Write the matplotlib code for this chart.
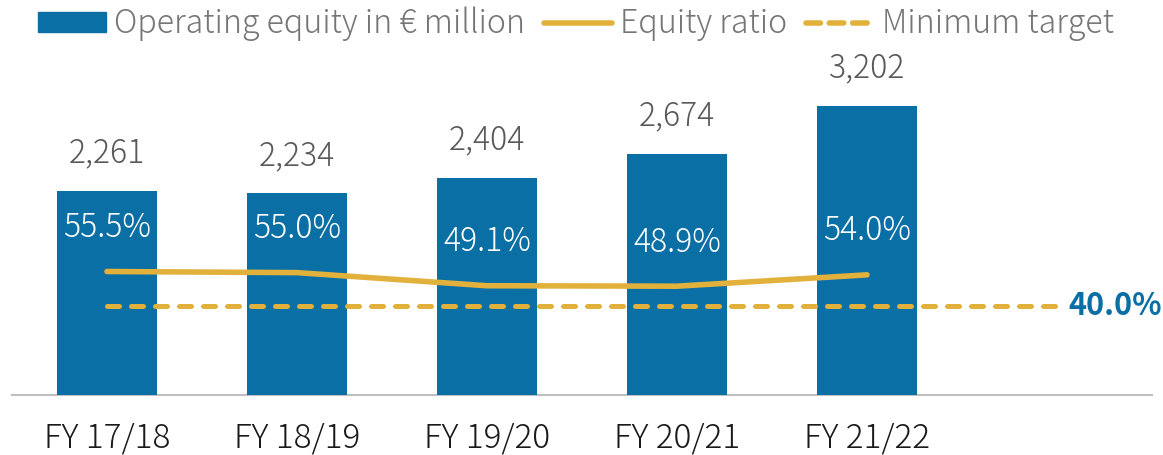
import matplotlib
matplotlib.use('Agg')
import matplotlib.pyplot as plt
from matplotlib.patches import Patch
from matplotlib.lines import Line2D

plt.rcParams['font.family'] = ['Noto Sans CJK JP', 'DejaVu Sans']

# Daten
jahre = ['FY 17/18', 'FY 18/19', 'FY 19/20', 'FY 20/21', 'FY 21/22']
eigenkapital = [2261, 2234, 2404, 2674, 3202]   # € Mio.
ek_quote = [55.5, 55.0, 49.1, 48.9, 54.0]       # %
mindestziel = 40.0                              # %

blau = '#0A6FA5'
gold = '#E2B13C'
grau_text = '#595959'
grau_legende = '#767676'

fig = plt.figure(figsize=(11.63, 4.55), dpi=100)
ax = fig.add_axes([12 / 1163, 60 / 455, 1140 / 1163, 340 / 455])
ax2 = ax.twinx()

x = list(range(len(jahre)))

# Balken: operatives Eigenkapital
ax.bar(x, eigenkapital, width=0.526, color=blau, zorder=2)
for xi, wert in zip(x, eigenkapital):
    ax.annotate(f'{wert:,}', (xi, wert), xytext=(0, 27), textcoords='offset points',
                ha='center', va='center', fontsize=23, color=grau_text,
                fontweight='light')

# Linien: Eigenkapitalquote und Mindestziel
ax2.plot(x, ek_quote, color=gold, lw=4, solid_capstyle='round', zorder=3)
ax2.plot([x[0], len(jahre)], [mindestziel, mindestziel], color=gold, lw=3.6,
         dashes=(2.4, 2.4), dash_capstyle='round', zorder=3)
for xi, q in zip(x, ek_quote):
    ax2.annotate(f'{q:.1f}%', (xi, q), xytext=(0, 31.5), textcoords='offset points',
                 ha='center', va='center', fontsize=23, color='white',
                 fontweight='light')
ax2.annotate(f'{mindestziel:.1f}%', (len(jahre), mindestziel), xytext=(8, 0),
             textcoords='offset points', ha='left', va='center', fontsize=22,
             fontweight='bold', color=blau)

ax.set_xlim(-0.5, 5.5)
ax.set_ylim(0, 3767)
ax2.set_ylim(0, 152.8)

ax.set_xticks(x)
ax.set_xticklabels(jahre, fontsize=24, color='#1a1a1a', fontweight='light')
ax.tick_params(axis='x', length=0, pad=19)
ax.set_yticks([])
ax2.set_yticks([])
for a in (ax, ax2):
    for s in ('top', 'left', 'right', 'bottom'):
        a.spines[s].set_visible(False)
ax.spines['bottom'].set_visible(True)
ax.spines['bottom'].set_color('#BFBFBF')
ax.spines['bottom'].set_linewidth(1.5)
ax.spines['bottom'].set_zorder(1)

# Legende
handles = [
    Patch(color=blau),
    Line2D([], [], color=gold, lw=4, solid_capstyle='round'),
    Line2D([], [], color=gold, lw=4, dashes=(2.6, 1.6), dash_capstyle='round'),
]
labels = ['Operating equity in € million', 'Equity ratio', 'Minimum target']
leg = fig.legend(handles, labels, loc='center left',
                 bbox_to_anchor=(38 / 1163, 1 - 24 / 455),
                 ncol=3, frameon=False, handlelength=2.1,
                 prop={'size': 23.2, 'weight': 'light'},
                 handleheight=0.55, handletextpad=0.25, columnspacing=0.6,
                 borderpad=0, borderaxespad=0)
for t in leg.get_texts():
    t.set_color(grau_legende)

fig.savefig('out.png', dpi=100)
